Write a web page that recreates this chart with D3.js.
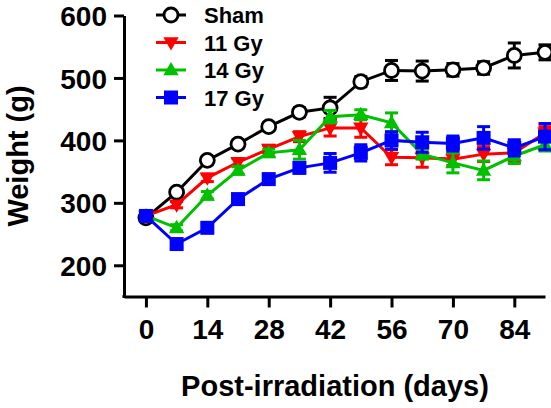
<!DOCTYPE html>
<html>
<head>
<meta charset="utf-8">
<script src="https://cdn.jsdelivr.net/npm/d3@7"></script>
<style>
  html, body { margin: 0; padding: 0; background: #fff; }
  svg { display: block; }
  text { font-family: "Liberation Sans", Arial, sans-serif; font-weight: bold; }
</style>
</head>
<body>
<svg id="chart" width="551" height="408"></svg>
<script>
const days = [0, 7, 14, 21, 28, 35, 42, 49, 56, 63, 70, 77, 84, 91];
const xTicks = [0, 14, 28, 42, 56, 70, 84];
const yTicks = [200, 300, 400, 500, 600];
const seriesNames = ["Sham", "11 Gy", "14 Gy", "17 Gy"];
const seriesColors = ["#000000", "#ff0000", "#00c000", "#0000ff"];
const seriesSymbols = ["circle", "triangleDown", "triangleUp", "square"];
const shamMean = [276, 317, 368, 394, 422, 445, 452, 494, 512, 511, 513, 516, 536, 541];
const shamErr  = [4, 5, 6, 6, 6, 7, 17, 8, 16, 16, 10, 10, 20, 12];
const gy11Mean = [279, 297, 340, 365, 386, 406, 420, 420, 373, 372, 370, 378, 380, 412];
const gy11Err  = [4, 5, 6, 6, 6, 8, 13, 15, 12, 15, 10, 12, 14, 10];
const gy14Mean = [279, 260, 312, 352, 380, 385, 438, 441, 428, 378, 364, 352, 375, 393];
const gy14Err  = [4, 5, 6, 6, 6, 15, 10, 8, 16, 8, 16, 15, 12, 10];
const gy17Mean = [279, 234, 260, 306, 338, 356, 364, 380, 400, 397, 395, 404, 388, 406];
const gy17Err  = [4, 5, 6, 6, 6, 8, 15, 13, 14, 16, 12, 18, 13, 21];

const means = [shamMean, gy11Mean, gy14Mean, gy17Mean];
const errs = [shamErr, gy11Err, gy14Err, gy17Err];

const svg = d3.select("#chart");
const x = d3.scaleLinear().domain([-5, 91]).range([124, 545]);
const y = d3.scaleLinear().domain([150, 600]).range([296.5, 15.5]);

// axes
const yAxis = d3.axisLeft(y).tickValues(yTicks).tickSize(10).tickSizeOuter(0).tickPadding(7);
const gy = svg.append("g").attr("transform", "translate(124,0)").call(yAxis);
const xAxis = d3.axisBottom(x).tickValues(xTicks).tickSize(11).tickSizeOuter(0).tickPadding(12);
const gx = svg.append("g").attr("transform", "translate(0,296.5)").call(xAxis);
[gx, gy].forEach(g => {
  g.select(".domain").attr("stroke", "#000").attr("stroke-width", 3);
  g.selectAll(".tick line").attr("stroke", "#000").attr("stroke-width", 3);
  g.selectAll(".tick text").attr("fill", "#000").style("font-size", "28px")
    .style("font-family", "'Liberation Sans', Arial, sans-serif").style("font-weight", "bold");
});
gy.selectAll(".tick text").attr("dy", "0.36em");
gx.selectAll(".tick text").attr("dy", "0.71em");
// square corner
svg.append("line").attr("x1", 122.5).attr("x2", 125.5).attr("y1", 296.5).attr("y2", 296.5)
  .attr("stroke", "#000").attr("stroke-width", 3);

// axis titles
svg.append("text").attr("x", 335).attr("y", 396).attr("text-anchor", "middle")
  .style("font-size", "29px").text("Post-irradiation (days)");
svg.append("text").attr("transform", "translate(28,156) rotate(-90)").attr("text-anchor", "middle")
  .style("font-size", "29px").text("Weight (g)");

function drawMarker(g, type, color, cx, cy, s) {
  if (type === "circle") {
    g.append("circle").attr("cx", cx).attr("cy", cy).attr("r", s * 0.5)
      .attr("fill", "#fff").attr("stroke", color).attr("stroke-width", 2.8);
  } else if (type === "square") {
    g.append("rect").attr("x", cx - s / 2).attr("y", cy - s / 2).attr("width", s).attr("height", s)
      .attr("fill", color);
  } else if (type === "triangleUp") {
    const h = s * 0.95, w = s * 1.1;
    g.append("path").attr("d", `M${cx},${cy - h * 0.6}L${cx + w / 2},${cy + h * 0.4}L${cx - w / 2},${cy + h * 0.4}Z`)
      .attr("fill", color);
  } else if (type === "triangleDown") {
    const h = s * 0.95, w = s * 1.1;
    g.append("path").attr("d", `M${cx},${cy + h * 0.6}L${cx + w / 2},${cy - h * 0.4}L${cx - w / 2},${cy - h * 0.4}Z`)
      .attr("fill", color);
  }
}

const line = d3.line().x(d => x(d[0])).y(d => y(d[1]));
means.forEach((m, i) => {
  const g = svg.append("g");
  const color = seriesColors[i];
  const pts = days.map((d, j) => [d, m[j], errs[i][j]]);
  // error bars
  pts.forEach(p => {
    const cx = x(p[0]);
    g.append("line").attr("x1", cx).attr("x2", cx).attr("y1", y(p[1] - p[2])).attr("y2", y(p[1] + p[2]))
      .attr("stroke", color).attr("stroke-width", 3);
    [p[1] - p[2], p[1] + p[2]].forEach(v => {
      g.append("line").attr("x1", cx - 6.5).attr("x2", cx + 6.5).attr("y1", y(v)).attr("y2", y(v))
        .attr("stroke", color).attr("stroke-width", 3);
    });
  });
  g.append("path").datum(pts).attr("d", line).attr("fill", "none")
    .attr("stroke", color).attr("stroke-width", 3);
  pts.forEach(p => drawMarker(g, seriesSymbols[i], color, x(p[0]), y(p[1]), 14));
});

// legend
const legendY = [15, 42.5, 70, 97.5];
seriesNames.forEach((name, i) => {
  const g = svg.append("g");
  const cy = legendY[i];
  g.append("line").attr("x1", 156).attr("x2", 186).attr("y1", cy).attr("y2", cy)
    .attr("stroke", seriesColors[i]).attr("stroke-width", 3);
  drawMarker(g, seriesSymbols[i], seriesColors[i], 171, cy, 14);
  g.append("text").attr("x", 204).attr("y", cy + 8).style("font-size", "22px").attr("fill", "#000").text(name);
});
</script>
</body>
</html>
